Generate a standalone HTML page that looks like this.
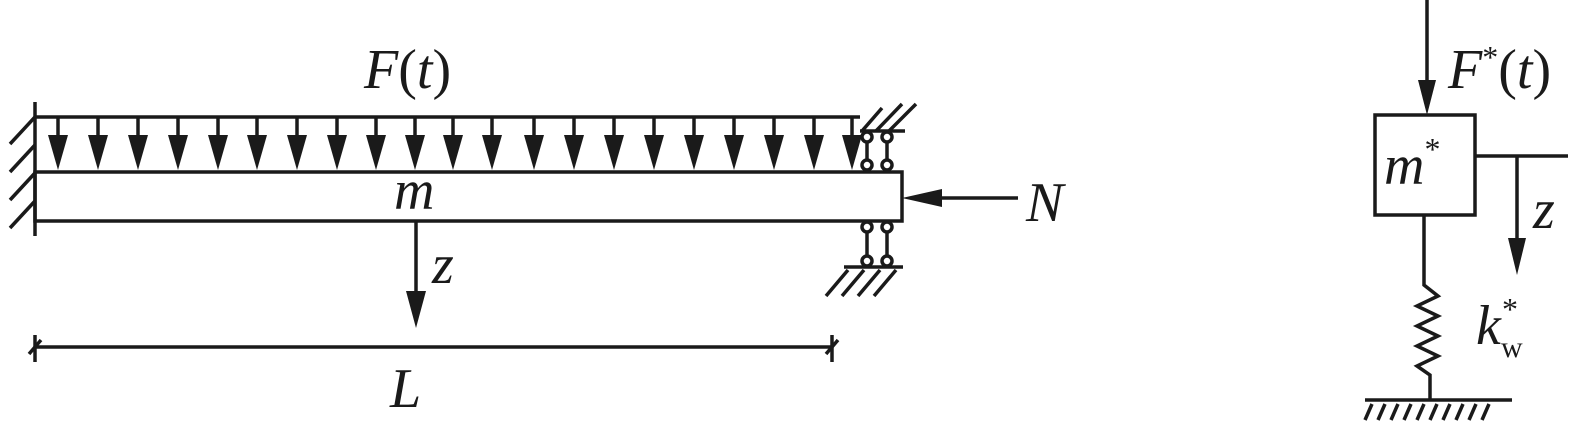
<!DOCTYPE html>
<html><head><style>html,body{margin:0;padding:0;background:#fff;}svg{display:block}</style></head>
<body>
<svg width="1575" height="424" viewBox="0 0 1575 424" xmlns="http://www.w3.org/2000/svg" font-family="Liberation Serif, serif" font-style="italic">
<g stroke="#1a1a1a" stroke-width="3.5" fill="none">
<line x1="35" y1="102" x2="35" y2="236"/>
<line x1="35" y1="117" x2="10" y2="144"/>
<line x1="35" y1="145" x2="10" y2="172"/>
<line x1="35" y1="173" x2="10" y2="200"/>
<line x1="35" y1="201" x2="10" y2="228"/>
<line x1="35" y1="117" x2="860" y2="117"/>
<rect x="35" y="172" width="867" height="49"/>
<line x1="416" y1="221" x2="416" y2="295"/>
<line x1="35" y1="347" x2="832" y2="347"/>
<line x1="35" y1="335" x2="35" y2="362"/>
<line x1="832" y1="335" x2="832" y2="362"/>
<line x1="29" y1="354" x2="41" y2="340"/>
<line x1="826" y1="354" x2="838" y2="340"/>
<line x1="940" y1="198" x2="1018" y2="198"/>
<line x1="860" y1="131" x2="905" y2="131"/>
<line x1="862" y1="131" x2="882" y2="108"/>
<line x1="876" y1="131" x2="902" y2="104"/>
<line x1="889" y1="131" x2="916" y2="104"/>
<line x1="867" y1="142" x2="867" y2="160"/>
<line x1="887" y1="142" x2="887" y2="160"/>
<circle cx="867" cy="137" r="5"/><circle cx="887" cy="137" r="5"/>
<circle cx="867" cy="165" r="5"/><circle cx="887" cy="165" r="5"/>
<circle cx="867" cy="227" r="5"/><circle cx="887" cy="227" r="5"/>
<circle cx="867" cy="261" r="5"/><circle cx="887" cy="261" r="5"/>
<line x1="867" y1="232" x2="867" y2="256"/>
<line x1="887" y1="232" x2="887" y2="256"/>
<line x1="844" y1="267" x2="903" y2="267"/>
<line x1="848" y1="270" x2="826" y2="296"/>
<line x1="864" y1="270" x2="842" y2="296"/>
<line x1="880" y1="270" x2="858" y2="296"/>
<line x1="896" y1="270" x2="874" y2="296"/>
<line x1="1427" y1="0" x2="1427" y2="85"/>
<rect x="1375" y="115" width="100" height="100"/>
<line x1="1475" y1="156" x2="1568" y2="156"/>
<line x1="1517" y1="156" x2="1517" y2="242"/>
<polyline points="1424,215 1424,285 1438,296 1417,306 1438,316 1417,326 1438,336 1417,346 1438,356 1417,366 1430,375 1430,400"/>
<line x1="1365" y1="400" x2="1512" y2="400"/>
<line x1="1372" y1="404" x2="1365" y2="420"/><line x1="1385" y1="404" x2="1378" y2="420"/>
<line x1="1398" y1="404" x2="1391" y2="420"/><line x1="1411" y1="404" x2="1404" y2="420"/>
<line x1="1424" y1="404" x2="1417" y2="420"/><line x1="1437" y1="404" x2="1430" y2="420"/>
<line x1="1450" y1="404" x2="1443" y2="420"/><line x1="1463" y1="404" x2="1456" y2="420"/>
<line x1="1476" y1="404" x2="1469" y2="420"/><line x1="1489" y1="404" x2="1482" y2="420"/>
</g>
<g fill="#1a1a1a">
<polygon points="406,291 426,291 416,328"/>
<polygon points="902,198 942,189 942,207"/>
<polygon points="1418,80 1436,80 1427,115"/>
<polygon points="1508,238 1526,238 1517,275"/>
</g>
<g stroke="#1a1a1a" stroke-width="3.5">
<line x1="58" y1="117" x2="58" y2="140"/><line x1="98" y1="117" x2="98" y2="140"/><line x1="138" y1="117" x2="138" y2="140"/><line x1="178" y1="117" x2="178" y2="140"/><line x1="218" y1="117" x2="218" y2="140"/><line x1="257" y1="117" x2="257" y2="140"/><line x1="297" y1="117" x2="297" y2="140"/><line x1="337" y1="117" x2="337" y2="140"/><line x1="376" y1="117" x2="376" y2="140"/><line x1="415" y1="117" x2="415" y2="140"/><line x1="453" y1="117" x2="453" y2="140"/><line x1="492" y1="117" x2="492" y2="140"/><line x1="534" y1="117" x2="534" y2="140"/><line x1="574" y1="117" x2="574" y2="140"/><line x1="614" y1="117" x2="614" y2="140"/><line x1="654" y1="117" x2="654" y2="140"/><line x1="694" y1="117" x2="694" y2="140"/><line x1="734" y1="117" x2="734" y2="140"/><line x1="774" y1="117" x2="774" y2="140"/><line x1="814" y1="117" x2="814" y2="140"/><line x1="852" y1="117" x2="852" y2="140"/>
</g>
<g fill="#1a1a1a">
<polygon points="48,135 68,135 58,170"/><polygon points="88,135 108,135 98,170"/><polygon points="128,135 148,135 138,170"/><polygon points="168,135 188,135 178,170"/><polygon points="208,135 228,135 218,170"/><polygon points="247,135 267,135 257,170"/><polygon points="287,135 307,135 297,170"/><polygon points="327,135 347,135 337,170"/><polygon points="366,135 386,135 376,170"/><polygon points="405,135 425,135 415,170"/><polygon points="443,135 463,135 453,170"/><polygon points="482,135 502,135 492,170"/><polygon points="524,135 544,135 534,170"/><polygon points="564,135 584,135 574,170"/><polygon points="604,135 624,135 614,170"/><polygon points="644,135 664,135 654,170"/><polygon points="684,135 704,135 694,170"/><polygon points="724,135 744,135 734,170"/><polygon points="764,135 784,135 774,170"/><polygon points="804,135 824,135 814,170"/><polygon points="842,135 862,135 852,170"/>
</g>
<g fill="#1a1a1a" font-size="56">
<text x="364" y="88">F<tspan font-style="normal">(</tspan>t<tspan font-style="normal">)</tspan></text>
<text x="394" y="209">m</text>
<text x="432" y="283">z</text>
<text x="390" y="407">L</text>
<text x="1026" y="221">N</text>
<text x="1448" y="88">F<tspan font-size="32" dy="-20" font-style="normal">*</tspan><tspan dy="20" font-style="normal">(</tspan>t<tspan font-style="normal">)</tspan></text>
<text x="1384" y="184">m<tspan font-size="32" dy="-24" font-style="normal">*</tspan></text>
<text x="1533" y="228">z</text>
<text x="1476" y="344">k</text>
<text x="1502" y="320" font-size="32" font-style="normal">*</text>
<text x="1501" y="357" font-size="30" font-style="normal">w</text>
</g>
</svg>
</body></html>
